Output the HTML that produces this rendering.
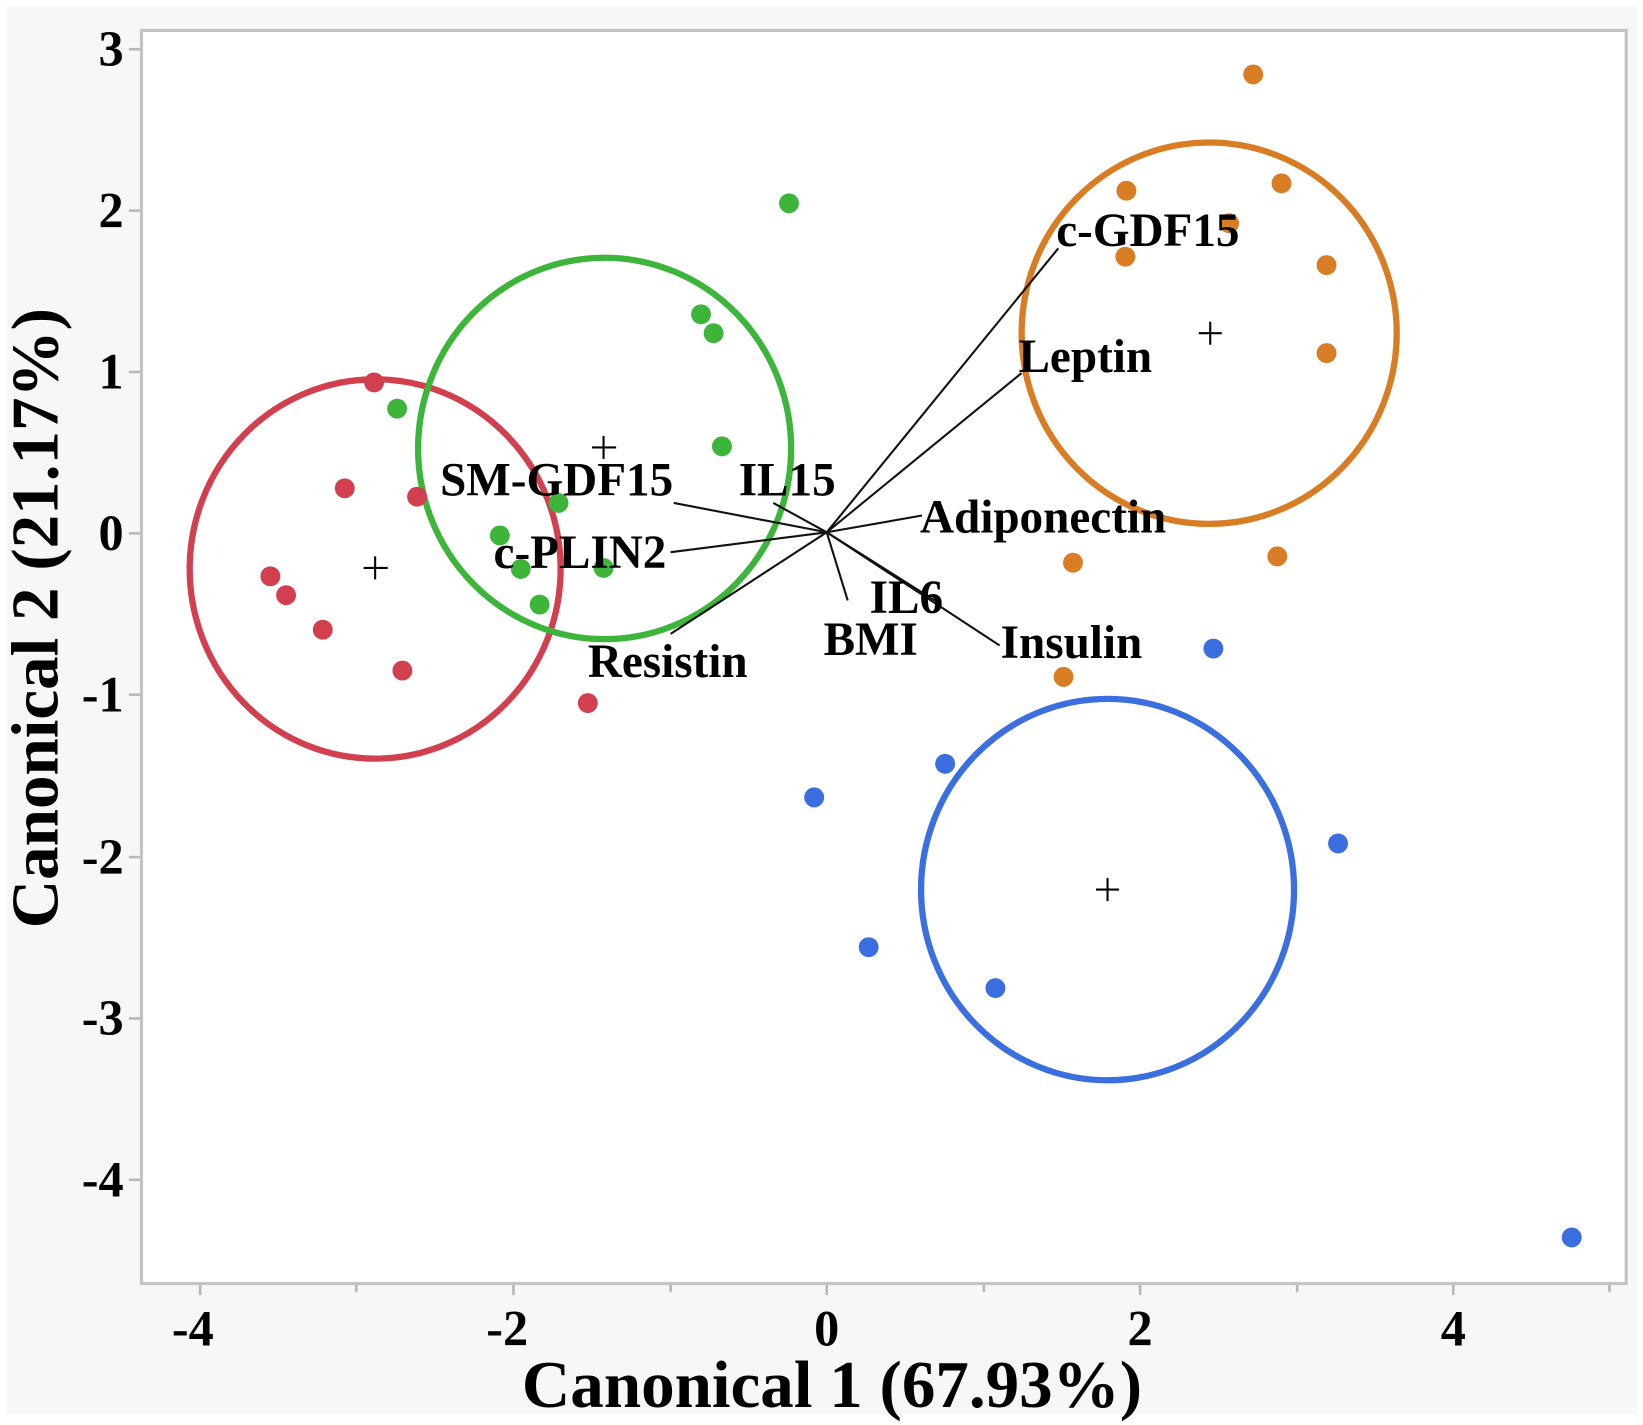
<!DOCTYPE html>
<html><head><meta charset="utf-8"><style>
html,body{margin:0;padding:0;background:#fff;}
svg{display:block;}
text{font-family:"Liberation Serif",serif;font-weight:bold;fill:#000;}
</style></head><body>
<svg width="1643" height="1425" viewBox="0 0 1568 1360" xmlns="http://www.w3.org/2000/svg">
<rect x="0" y="0" width="1568" height="1360" fill="#fff"/>
<rect x="6" y="6" width="1556" height="1344" fill="#f7f7f7"/>
<rect x="135" y="29" width="1417" height="1196" fill="#fff" stroke="#c4c4c4" stroke-width="3"/>
<g stroke="#b8b8b8" stroke-width="2.5">
<line x1="191" y1="1226" x2="191" y2="1236"/><line x1="340" y1="1226" x2="340" y2="1233"/>
<line x1="490" y1="1226" x2="490" y2="1236"/><line x1="640" y1="1226" x2="640" y2="1233"/>
<line x1="789" y1="1226" x2="789" y2="1236"/><line x1="939" y1="1226" x2="939" y2="1233"/>
<line x1="1088" y1="1226" x2="1088" y2="1236"/><line x1="1238" y1="1226" x2="1238" y2="1233"/>
<line x1="1387" y1="1226" x2="1387" y2="1236"/><line x1="1536" y1="1226" x2="1536" y2="1233"/>
<line x1="123" y1="47" x2="134" y2="47"/><line x1="123" y1="201" x2="134" y2="201"/>
<line x1="123" y1="355" x2="134" y2="355"/><line x1="123" y1="509" x2="134" y2="509"/>
<line x1="123" y1="663" x2="134" y2="663"/><line x1="123" y1="818" x2="134" y2="818"/>
<line x1="123" y1="972" x2="134" y2="972"/><line x1="123" y1="1126" x2="134" y2="1126"/>
</g>
<g font-size="48" text-anchor="end">
<text x="118" y="63">3</text><text x="118" y="217">2</text><text x="118" y="371">1</text>
<text x="118" y="525">0</text><text x="118" y="679">-1</text><text x="118" y="834">-2</text>
<text x="118" y="988">-3</text><text x="118" y="1142">-4</text>
</g>
<g font-size="48" text-anchor="middle">
<text x="184" y="1284">-4</text><text x="484" y="1284">-2</text><text x="789" y="1284">0</text>
<text x="1088" y="1284">2</text><text x="1387" y="1284">4</text>
</g>
<text x="794" y="1343" font-size="64" text-anchor="middle">Canonical 1 (67.93%)</text>
<text transform="translate(55,590) rotate(-90)" font-size="64" text-anchor="middle">Canonical 2 (21.17%)</text>
<g fill="none" stroke-width="6">
<ellipse cx="358" cy="543" rx="177" ry="181" stroke="#d2404f"/>
<ellipse cx="577" cy="428" rx="178" ry="182" stroke="#3db53b"/>
<ellipse cx="1154" cy="318" rx="179" ry="182" stroke="#d97d25"/>
<ellipse cx="1057" cy="849" rx="178" ry="182" stroke="#3b6fe0"/>
</g>
<g stroke="#111" stroke-width="2">
<line x1="789" y1="508" x2="1010" y2="237"/>
<line x1="789" y1="508" x2="975" y2="356"/>
<line x1="789" y1="508" x2="880" y2="492"/>
<line x1="789" y1="508" x2="954" y2="616"/>
<line x1="789" y1="508" x2="892" y2="573"/>
<line x1="789" y1="508" x2="738" y2="480"/>
<line x1="789" y1="508" x2="643" y2="480"/>
<line x1="789" y1="508" x2="640" y2="527"/>
<line x1="789" y1="508" x2="640" y2="605"/>
<line x1="789" y1="508" x2="809" y2="573"/>
</g>
<g stroke="#000" stroke-width="2">
<line x1="358" y1="531" x2="358" y2="553"/><line x1="347" y1="542" x2="370" y2="542"/>
<line x1="576" y1="416" x2="576" y2="438"/><line x1="565" y1="427" x2="588" y2="427"/>
<line x1="1155" y1="307" x2="1155" y2="329"/><line x1="1144" y1="318" x2="1166" y2="318"/>
<line x1="1057" y1="838" x2="1057" y2="860"/><line x1="1046" y1="849" x2="1068" y2="849"/>
</g>
<g fill="#d2404f">
<circle cx="357" cy="365" r="9.5"/><circle cx="329" cy="466" r="9.5"/><circle cx="398" cy="474" r="9.5"/>
<circle cx="258" cy="550" r="9.5"/><circle cx="273" cy="568" r="9.5"/><circle cx="308" cy="601" r="9.5"/>
<circle cx="384" cy="640" r="9.5"/><circle cx="561" cy="671" r="9.5"/>
</g>
<g fill="#3db53b">
<circle cx="753" cy="194" r="9.5"/><circle cx="669" cy="300" r="9.5"/><circle cx="681" cy="318" r="9.5"/>
<circle cx="379" cy="390" r="9.5"/><circle cx="689" cy="426" r="9.5"/><circle cx="533" cy="480" r="9.5"/>
<circle cx="477" cy="511" r="9.5"/><circle cx="497" cy="543" r="9.5"/><circle cx="576" cy="542" r="9.5"/>
<circle cx="515" cy="577" r="9.5"/>
</g>
<g fill="#d97d25">
<circle cx="1196" cy="71" r="9.5"/><circle cx="1075" cy="182" r="9.5"/><circle cx="1223" cy="175" r="9.5"/>
<circle cx="1173" cy="213" r="9.5"/><circle cx="1074" cy="245" r="9.5"/><circle cx="1266" cy="253" r="9.5"/>
<circle cx="1266" cy="337" r="9.5"/><circle cx="1219" cy="531" r="9.5"/><circle cx="1024" cy="537" r="9.5"/>
<circle cx="1015" cy="646" r="9.5"/>
</g>
<g fill="#3b6fe0">
<circle cx="1158" cy="619" r="9.5"/><circle cx="902" cy="729" r="9.5"/><circle cx="777" cy="761" r="9.5"/>
<circle cx="1277" cy="805" r="9.5"/><circle cx="829" cy="904" r="9.5"/><circle cx="950" cy="943" r="9.5"/>
<circle cx="1500" cy="1181" r="9.5"/>
</g>
<g font-size="45">
<text x="1008" y="235">c-GDF15</text>
<text x="972" y="355">Leptin</text>
<text x="878" y="508">Adiponectin</text>
<text x="955" y="628">Insulin</text>
<text x="830" y="585">IL6</text>
<text x="786" y="625">BMI</text>
<text x="705" y="473">IL15</text>
<text x="420" y="473">SM-GDF15</text>
<text x="471" y="542">c-PLIN2</text>
<text x="561" y="646">Resistin</text>
</g>
</svg>
</body></html>
